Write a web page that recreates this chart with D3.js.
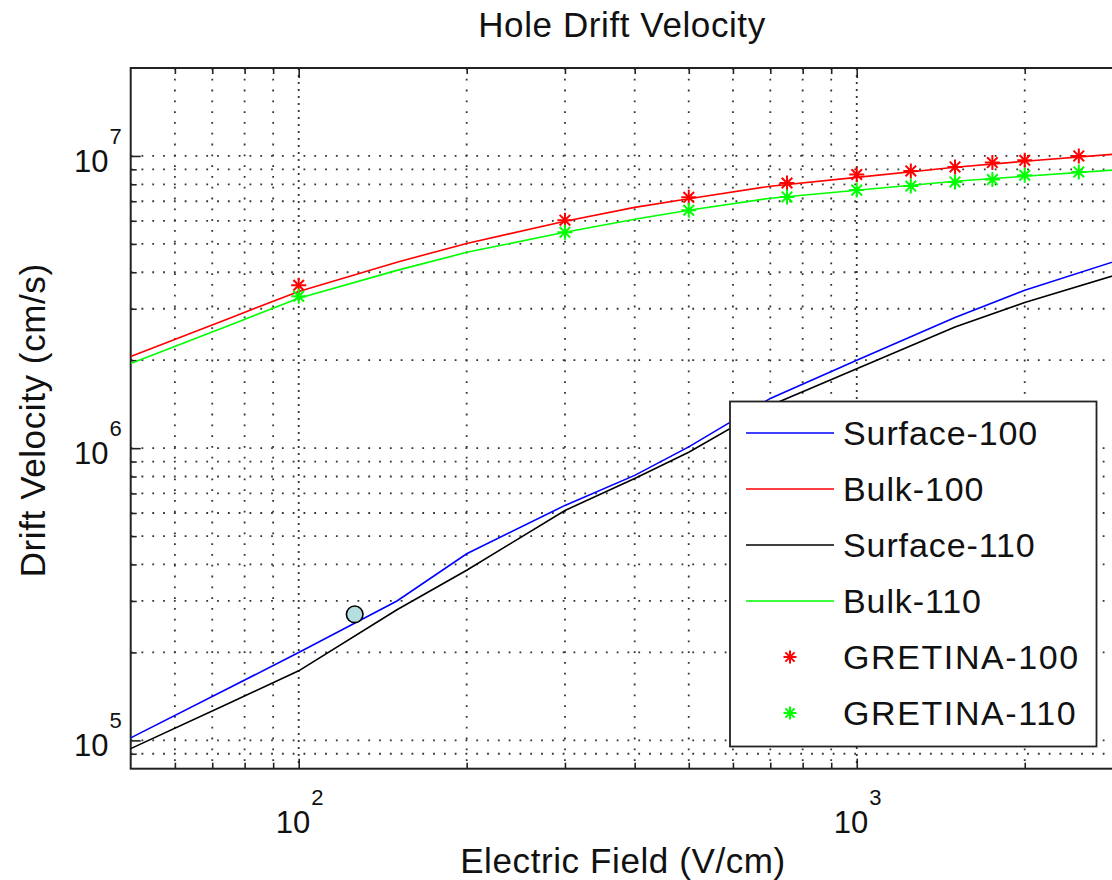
<!DOCTYPE html>
<html>
<head>
<meta charset="utf-8">
<script src="https://cdn.jsdelivr.net/npm/d3@7"></script>
<style>
  html, body { margin: 0; padding: 0; background: #fff; }
  svg { display: block; font-family: "Liberation Sans", Arial, sans-serif; }
  .grid line { stroke: #333; stroke-width: 1.8; stroke-dasharray: 1.8, 9; }
  .grid .major { stroke-dasharray: 2, 5; }
  .axis path { display: none; }
  .axis line { stroke: #222; stroke-width: 1.6; }
</style>
</head>
<body>
<svg id="chart" width="1112" height="880"></svg>
<script>
// electric field sample points (V/cm)
const fieldPts = [50, 75, 100, 150, 200, 300, 400, 500, 700, 1000, 1500, 2000, 3000];
const surface100 = [1.02e5, 1.51e5, 2.0e5, 3.0e5, 4.35e5, 6.37e5, 8.07e5, 1.01e6, 1.48e6, 2.0e6, 2.8e6, 3.47e6, 4.45e6];
const bulk100 = [2.06e6, 2.78e6, 3.44e6, 4.33e6, 5.02e6, 5.98e6, 6.67e6, 7.14e6, 7.88e6, 8.45e6, 9.15e6, 9.59e6, 1.02e7];
const surface110 = [9.37e4, 1.34e5, 1.73e5, 2.8e5, 3.82e5, 6.12e5, 7.88e5, 9.68e5, 1.40e6, 1.87e6, 2.6e6, 3.15e6, 3.98e6];
const bulk110 = [1.95e6, 2.63e6, 3.26e6, 4.06e6, 4.68e6, 5.48e6, 6.07e6, 6.52e6, 7.17e6, 7.63e6, 8.19e6, 8.52e6, 9.0e6];

// GRETINA points
const gretinaField = [100, 300, 500, 750, 1000, 1250, 1500, 1750, 2000, 2500];
const gretina100 = [3.61e6, 6.03e6, 7.22e6, 8.08e6, 8.64e6, 8.89e6, 9.17e6, 9.49e6, 9.67e6, 1.0e7];
const gretina110 = [3.31e6, 5.48e6, 6.52e6, 7.24e6, 7.64e6, 7.89e6, 8.15e6, 8.30e6, 8.59e6, 8.82e6];

// single highlighted point
const markField = [126];
const markVel = [2.7e5];

const xMajor = [100, 1000];
const xMinor = [60, 70, 80, 90, 200, 300, 400, 500, 600, 700, 800, 900, 2000, 3000];
const yMajor = [1e5, 1e6, 1e7];
const yMinor = [9e4, 2e5, 3e5, 4e5, 5e5, 6e5, 7e5, 8e5, 9e5, 2e6, 3e6, 4e6, 5e6, 6e6, 7e6, 8e6, 9e6];

const series = [
  { name: "Surface-100", vals: surface100, color: "#0000ff" },
  { name: "Bulk-100", vals: bulk100, color: "#ff0000" },
  { name: "Surface-110", vals: surface110, color: "#000000" },
  { name: "Bulk-110", vals: bulk110, color: "#00ff00" }
];
const markerSeries = [
  { name: "GRETINA-100", vals: gretina100, color: "#ff0000" },
  { name: "GRETINA-110", vals: gretina110, color: "#00ff00" }
];

const L = 130.7, R = 1123, T = 68, B = 768.7;
const svg = d3.select("#chart");
const x = d3.scaleLog().domain([50, 3000]).range([L, R]);
const y = d3.scaleLog().domain([8e4, 2e7]).range([B, T]);

// clip for plot area
svg.append("defs").append("clipPath").attr("id", "plot")
  .append("rect").attr("x", L).attr("y", T).attr("width", R - L).attr("height", B - T);

// grid
const grid = svg.append("g").attr("class", "grid");
grid.selectAll(".vx").data(xMinor.concat(xMajor)).enter().append("line")
  .attr("class", d => xMajor.includes(d) ? "vx major" : "vx")
  .attr("x1", d => x(d)).attr("x2", d => x(d)).attr("y1", T).attr("y2", B);
grid.selectAll(".hy").data(yMinor.concat(yMajor)).enter().append("line")
  .attr("class", "hy")
  .attr("y1", d => y(d)).attr("y2", d => y(d)).attr("x1", L).attr("x2", R);

// ticks (inside)
const addAxis = (gen, tr, vals, size) => svg.append("g").attr("class", "axis")
  .attr("transform", tr).call(gen.tickValues(vals).tickSize(size).tickFormat(""));
addAxis(d3.axisBottom(x), `translate(0,${B})`, xMinor, -6);
addAxis(d3.axisBottom(x), `translate(0,${B})`, xMajor, -10);
addAxis(d3.axisTop(x), `translate(0,${T})`, xMinor, -6);
addAxis(d3.axisTop(x), `translate(0,${T})`, xMajor, -10);
addAxis(d3.axisLeft(y), `translate(${L},0)`, yMinor, -6);
addAxis(d3.axisLeft(y), `translate(${L},0)`, yMajor, -10);

// frame
svg.append("rect").attr("x", L).attr("y", T).attr("width", R - L).attr("height", B - T)
  .attr("fill", "none").attr("stroke", "#222").attr("stroke-width", 2);

// curves
const line = d3.line().x(d => x(d[0])).y(d => y(d[1]));
const plot = svg.append("g").attr("clip-path", "url(#plot)");
series.forEach(s => {
  plot.append("path").datum(fieldPts.map((f, i) => [f, s.vals[i]]))
    .attr("d", line).attr("fill", "none").attr("stroke", s.color).attr("stroke-width", 1.6);
});

// asterisk marker
const star = (g, cx, cy, r, color) => {
  const d = r * Math.SQRT1_2;
  [[-r, 0, r, 0], [0, -r, 0, r], [-d, -d, d, d], [-d, d, d, -d]].forEach(p => {
    g.append("line").attr("x1", cx + p[0]).attr("y1", cy + p[1]).attr("x2", cx + p[2]).attr("y2", cy + p[3])
      .attr("stroke", color).attr("stroke-width", 2);
  });
};
markerSeries.forEach(s => {
  gretinaField.forEach((f, i) => star(plot, x(f), y(s.vals[i]), 7.5, s.color));
});

plot.selectAll(".mark").data(markField).enter().append("circle")
  .attr("cx", d => x(d)).attr("cy", (d, i) => y(markVel[i])).attr("r", 8.3)
  .attr("fill", "#b3dfe0").attr("stroke", "#000").attr("stroke-width", 1.6);

// tick labels: 10^n
const pow = (g, px, py, exp, anchorRight) => {
  const t = g.append("text").attr("font-size", 31).attr("fill", "#111")
    .attr("x", px).attr("y", py).attr("text-anchor", anchorRight ? "end" : "middle");
  t.append("tspan").text("10");
  t.append("tspan").attr("font-size", 22).attr("dy", -28).attr("dx", 1).text(exp);
};
xMajor.forEach(v => pow(svg, x(v) + 1, B + 64, Math.round(Math.log10(v))));
yMajor.forEach(v => pow(svg, L - 9, y(v) + 16, Math.round(Math.log10(v)), true));

// titles
svg.append("text").attr("x", 622).attr("y", 37).attr("text-anchor", "middle")
  .attr("font-size", 35).attr("letter-spacing", 0.6).attr("fill", "#111").text("Hole Drift Velocity");
svg.append("text").attr("x", 623).attr("y", 873).attr("text-anchor", "middle")
  .attr("font-size", 35).attr("letter-spacing", 0.6).attr("fill", "#111").text("Electric Field (V/cm)");
svg.append("text").attr("transform", `translate(45,${(T + B) / 2 + 2}) rotate(-90)`).attr("text-anchor", "middle")
  .attr("font-size", 35).attr("letter-spacing", 0.6).attr("fill", "#111").text("Drift Velocity (cm/s)");

// legend
const lg = svg.append("g");
lg.append("rect").attr("x", 730).attr("y", 401.5).attr("width", 366.5).attr("height", 345)
  .attr("fill", "#fff").attr("stroke", "#222").attr("stroke-width", 1.8);
const rowY = i => 433 + i * 56;
series.forEach((s, i) => {
  lg.append("line").attr("x1", 746).attr("x2", 834).attr("y1", rowY(i)).attr("y2", rowY(i))
    .attr("stroke", s.color).attr("stroke-width", 1.6);
  lg.append("text").attr("x", 843).attr("y", rowY(i) + 12).attr("font-size", 34)
    .attr("letter-spacing", 0.9).attr("fill", "#111").text(s.name);
});
markerSeries.forEach((s, j) => {
  const i = j + 4;
  star(lg, 790, rowY(i), 6.5, s.color);
  lg.append("text").attr("x", 843).attr("y", rowY(i) + 12).attr("font-size", 34)
    .attr("letter-spacing", 1.6).attr("fill", "#111").text(s.name);
});
</script>
</body>
</html>
